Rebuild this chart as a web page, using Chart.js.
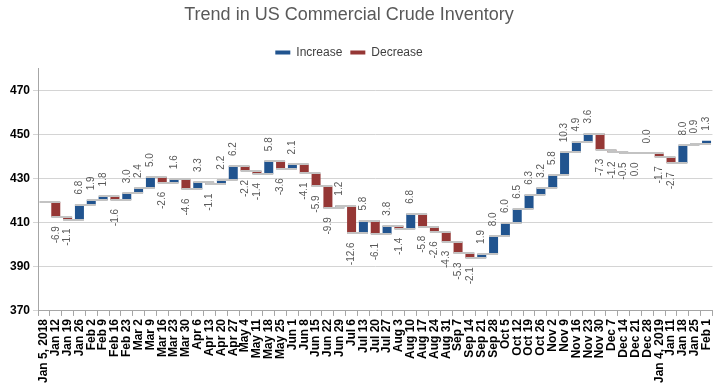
<!DOCTYPE html>
<html>
<head>
<meta charset="utf-8">
<title>Trend in US Commercial Crude Inventory</title>
<script src="https://cdn.jsdelivr.net/npm/chart.js@4/dist/chart.umd.min.js"></script>
<style>
    html, body { margin: 0; padding: 0; background: #fff; }
    canvas { display: block; }
</style>
</head>
<body>
<canvas id="inventoryChart" width="724" height="389"></canvas>
<script>
// Weekly report dates
const categories = [
    'Jan 5, 2018', 'Jan 12', 'Jan 19', 'Jan 26', 'Feb 2', 'Feb 9', 'Feb 16', 'Feb 23',
    'Mar 2', 'Mar 9', 'Mar 16', 'Mar 23', 'Mar 30', 'Apr 6', 'Apr 13', 'Apr 20', 'Apr 27',
    'May 4', 'May 11', 'May 18', 'May 25', 'Jun 1', 'Jun 8', 'Jun 15', 'Jun 22', 'Jun 29',
    'Jul 6', 'Jul 13', 'Jul 20', 'Jul 27', 'Aug 3', 'Aug 10', 'Aug 17', 'Aug 24', 'Aug 31',
    'Sep 7', 'Sep 14', 'Sep 21', 'Sep 28', 'Oct 5', 'Oct 12', 'Oct 19', 'Oct 26',
    'Nov 2', 'Nov 9', 'Nov 16', 'Nov 23', 'Nov 30', 'Dec 7', 'Dec 14', 'Dec 21', 'Dec 28',
    'Jan 4, 2019', 'Jan 11', 'Jan 18', 'Jan 25', 'Feb 1'
];

// Inventory level on Jan 5, 2018 (million barrels)
const startLevel = 419.5;

// Weekly change from Jan 12 onward (-0 = flat week shown as a decrease)
const weeklyChange = [
    -6.9, -1.1, 6.8, 1.9, 1.8, -1.6, 3.0, 2.4, 5.0, -2.6, 1.6, -4.6, 3.3, -1.1, 2.2, 6.2,
    -2.2, -1.4, 5.8, -3.6, 2.1, -4.1, -5.9, -9.9, 1.2, -12.6, 5.8, -6.1, 3.8, -1.4, 6.8,
    -5.8, -2.6, -4.3, -5.3, -2.1, 1.9, 8.0, 6.0, 6.5, 6.3, 3.2, 5.8, 10.3, 4.9, 3.6,
    -7.3, -1.2, -0.5, -0, 0.0, -1.7, -2.7, 8.0, 0.9, 1.3
];

const yTicks = [370, 390, 410, 430, 450, 470];

const colors = {
    increase: '#21548f',
    decrease: '#953735',
    connector: '#c3c3c3',
    label: '#595959',
    axis: '#a6a6a6',
    grid: '#d4d4d4'
};
const fontFamily = '"Liberation Sans", Arial, sans-serif';
const barPct = 0.76;

// Cumulative levels and floating bars
const levels = [startLevel];
weeklyChange.forEach(c => levels.push(levels[levels.length - 1] + c));

const isDown = c => c < 0 || Object.is(c, -0);
const increaseData = [null];
const decreaseData = [null];
weeklyChange.forEach((c, i) => {
    const bar = [levels[i], levels[i + 1]];
    increaseData.push(isDown(c) ? null : bar);
    decreaseData.push(isDown(c) ? bar : null);
});

// Connector lines and value labels for the waterfall
const waterfallDecor = {
    id: 'waterfallDecor',
    afterLayout(chart) {
        // title and legend sit a little left of the page centre
        if (chart.titleBlock) chart.titleBlock.right -= 27;
        if (chart.legend) chart.legend.right -= 27;
    },
    afterDatasetsDraw(chart) {
        const { ctx, scales: { x, y } } = chart;
        const slot = x.getPixelForValue(1) - x.getPixelForValue(0);
        const half = slot * barPct / 2;

        ctx.save();
        ctx.strokeStyle = colors.connector;
        ctx.lineWidth = 2;
        for (let i = 0; i < levels.length - 1; i++) {
            const py = Math.round(y.getPixelForValue(levels[i]));
            ctx.beginPath();
            ctx.moveTo(x.getPixelForValue(i) - half, py);
            ctx.lineTo(x.getPixelForValue(i + 1) + half, py);
            ctx.stroke();
        }

        ctx.fillStyle = colors.label;
        ctx.font = '10px ' + fontFamily;
        ctx.textBaseline = 'middle';
        weeklyChange.forEach((c, i) => {
            const cx = x.getPixelForValue(i + 1);
            const hi = Math.max(levels[i], levels[i + 1]);
            const lo = Math.min(levels[i], levels[i + 1]);
            const down = isDown(c);
            const text = Math.abs(c) < 0.05 ? '0.0' : c.toFixed(1);
            ctx.save();
            ctx.translate(cx, down ? y.getPixelForValue(lo) + 9 : y.getPixelForValue(hi) - 10);
            ctx.rotate(-Math.PI / 2);
            ctx.textAlign = down ? 'right' : 'left';
            ctx.fillText(text, 0, 0);
            ctx.restore();
        });
        ctx.restore();
    }
};

new Chart(document.getElementById('inventoryChart').getContext('2d'), {
    type: 'bar',
    data: {
        labels: categories,
        datasets: [
            {
                label: 'Increase',
                data: increaseData,
                backgroundColor: colors.increase,
                grouped: false,
                barPercentage: barPct,
                categoryPercentage: 1
            },
            {
                label: 'Decrease',
                data: decreaseData,
                backgroundColor: colors.decrease,
                grouped: false,
                barPercentage: barPct,
                categoryPercentage: 1
            }
        ]
    },
    options: {
        responsive: false,
        animation: false,
        layout: {
            padding: { left: 7, right: 6, top: 0, bottom: 3 }
        },
        plugins: {
            title: {
                display: true,
                text: 'Trend in US Commercial Crude Inventory',
                color: '#595959',
                font: { family: fontFamily, size: 18, weight: 'normal' },
                padding: { top: 4, bottom: 13 }
            },
            legend: {
                labels: {
                    boxWidth: 15,
                    boxHeight: 4,
                    color: '#404040',
                    font: { family: fontFamily, size: 12 },
                    padding: 8
                }
            },
            tooltip: { enabled: false }
        },
        scales: {
            x: {
                grid: { drawOnChartArea: false, tickLength: 5, color: colors.axis, offset: true },
                border: { color: colors.axis },
                ticks: {
                    autoSkip: false,
                    maxRotation: 90,
                    minRotation: 90,
                    padding: 3,
                    color: '#000',
                    font: { family: fontFamily, size: 12, weight: 'bold' }
                }
            },
            y: {
                min: 370,
                max: 480,
                afterBuildTicks: scale => {
                    scale.ticks = yTicks.map(v => ({ value: v }));
                },
                grid: { color: colors.grid, tickLength: 5 },
                border: { color: colors.axis },
                ticks: {
                    padding: 3,
                    color: '#000',
                    font: { family: fontFamily, size: 12, weight: 'bold' }
                }
            }
        }
    },
    plugins: [waterfallDecor]
});
</script>
</body>
</html>
